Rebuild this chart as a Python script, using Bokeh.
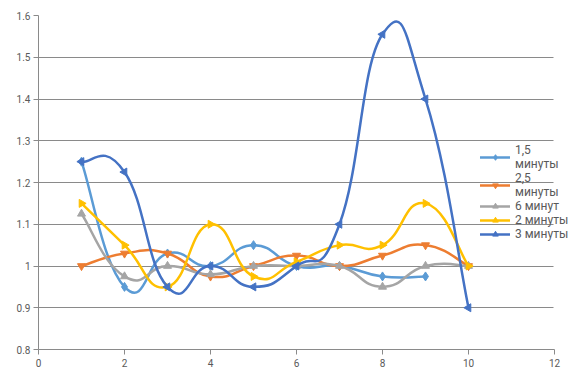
import numpy as np
from bokeh.plotting import figure
from bokeh.models import Legend, LegendItem, FixedTicker, Range1d
from bokeh.embed import file_html
from bokeh.resources import INLINE

# ---- data ----
x_15 = [1, 2, 3, 4, 5, 6, 7, 8, 9]
y_15 = [1.25, 0.95, 1.03, 1.0, 1.05, 1.0, 1.0, 0.975, 0.975]

x_all = [1, 2, 3, 4, 5, 6, 7, 8, 9, 10]
y_25 = [1.0, 1.03, 1.03, 0.975, 1.0, 1.025, 1.0, 1.025, 1.05, 1.0]
y_6 = [1.125, 0.975, 1.0, 0.98, 1.0, 1.0, 1.0, 0.95, 1.0, 1.0]
y_2 = [1.15, 1.05, 0.95, 1.1, 0.975, 1.01, 1.05, 1.05, 1.15, 1.0]
y_3 = [1.25, 1.225, 0.95, 1.0, 0.95, 1.0, 1.1, 1.555, 1.4, 0.9]

labels = ["1,5\nминуты", "2,5\nминуты", "6 минут", "2 минуты", "3 минуты"]
colors = ["#5B9BD5", "#ED7D31", "#A5A5A5", "#FFC000", "#4472C4"]
markers = ["diamond", "inverted_triangle", "triangle", "triangle", "triangle"]
angles = [0.0, 0.0, 0.0, -np.pi / 2, np.pi / 2]

x_ticks = [0, 2, 4, 6, 8, 10, 12]
y_ticks = [0.8, 0.9, 1.0, 1.1, 1.2, 1.3, 1.4, 1.5, 1.6]
y_tick_labels = ["0.8", "0.9", "1", "1.1", "1.2", "1.3", "1.4", "1.5", "1.6"]

GRID = "#8a8a8a"
TEXT = "#595959"

W, H = 572, 378
LEFT, TOP, BOTTOM = 38, 15, 29
PX_PER_X = 43.0
x_end = (W - LEFT) / PX_PER_X


def smooth_segments(xs, ys, k=0.25):
    xs = np.asarray(xs, float)
    ys = np.asarray(ys, float)
    n = len(xs)
    out = {"x0": [], "y0": [], "x1": [], "y1": [], "cx0": [], "cy0": [], "cx1": [], "cy1": []}
    for i in range(n - 1):
        ip = max(i - 1, 0)
        inx = min(i + 2, n - 1)
        out["x0"].append(xs[i]); out["y0"].append(ys[i])
        out["x1"].append(xs[i + 1]); out["y1"].append(ys[i + 1])
        out["cx0"].append(xs[i] + k * (xs[i + 1] - xs[ip]))
        out["cy0"].append(ys[i] + k * (ys[i + 1] - ys[ip]))
        out["cx1"].append(xs[i + 1] - k * (xs[inx] - xs[i]))
        out["cy1"].append(ys[i + 1] - k * (ys[inx] - ys[i]))
    return out


p = figure(width=W, height=H, output_backend="svg", toolbar_location=None,
           x_range=Range1d(0, x_end), y_range=Range1d(0.8, 1.6),
           min_border_left=LEFT, min_border_right=0, min_border_top=TOP,
           min_border_bottom=BOTTOM)
p.outline_line_color = None
p.background_fill_color = "white"
p.border_fill_color = "white"

p.xgrid.visible = False
p.ygrid.grid_line_color = GRID
p.ygrid.grid_line_width = 1
p.ygrid.ticker = FixedTicker(ticks=y_ticks)
p.ygrid.cross_bounds = (0, 11.97)

p.xaxis.ticker = FixedTicker(ticks=x_ticks)
p.xaxis.bounds = (0, 12)
p.yaxis.ticker = FixedTicker(ticks=y_ticks)
p.yaxis.major_label_overrides = {t: l for t, l in zip(y_ticks, y_tick_labels)}
for ax in (p.xaxis, p.yaxis):
    ax.axis_line_color = GRID
    ax.major_tick_line_color = GRID
    ax.major_tick_in = 0
    ax.major_tick_out = 5
    ax.minor_tick_line_color = None
    ax.major_label_text_font = "Roboto"
    ax.major_label_text_font_size = "10px"
    ax.major_label_text_color = TEXT
p.xaxis.major_label_standoff = 4
p.yaxis.major_label_standoff = 3

series = [(x_15, y_15), (x_all, y_25), (x_all, y_6), (x_all, y_2), (x_all, y_3)]
items = []
for (xs, ys), lab, col, mk, ang in zip(series, labels, colors, markers, angles):
    seg = smooth_segments(xs, ys)
    r_line = p.bezier(x0="x0", y0="y0", x1="x1", y1="y1", cx0="cx0", cy0="cy0",
                      cx1="cx1", cy1="cy1", source=seg, line_color=col, line_width=2.5,
                      line_cap="round")
    size = 9 if mk == "diamond" else 8
    r_pt = p.scatter(xs, ys, marker=mk, size=size, angle=ang, fill_color=col, line_color=col)
    items.append(LegendItem(label=lab, renderers=[r_line, r_pt]))

legend = Legend(items=items, location=(442, 108))
legend.background_fill_alpha = 0
legend.border_line_color = None
legend.padding = 0
legend.margin = 0
legend.spacing = 0
legend.glyph_width = 30
legend.glyph_height = 14
legend.label_height = 14
legend.label_standoff = 5
legend.label_text_font = "Roboto"
legend.label_text_font_size = "12px"
legend.label_text_color = TEXT
legend.label_text_line_height = 1.1
p.add_layout(legend)

open("out.html", "w").write(file_html(p, INLINE))
